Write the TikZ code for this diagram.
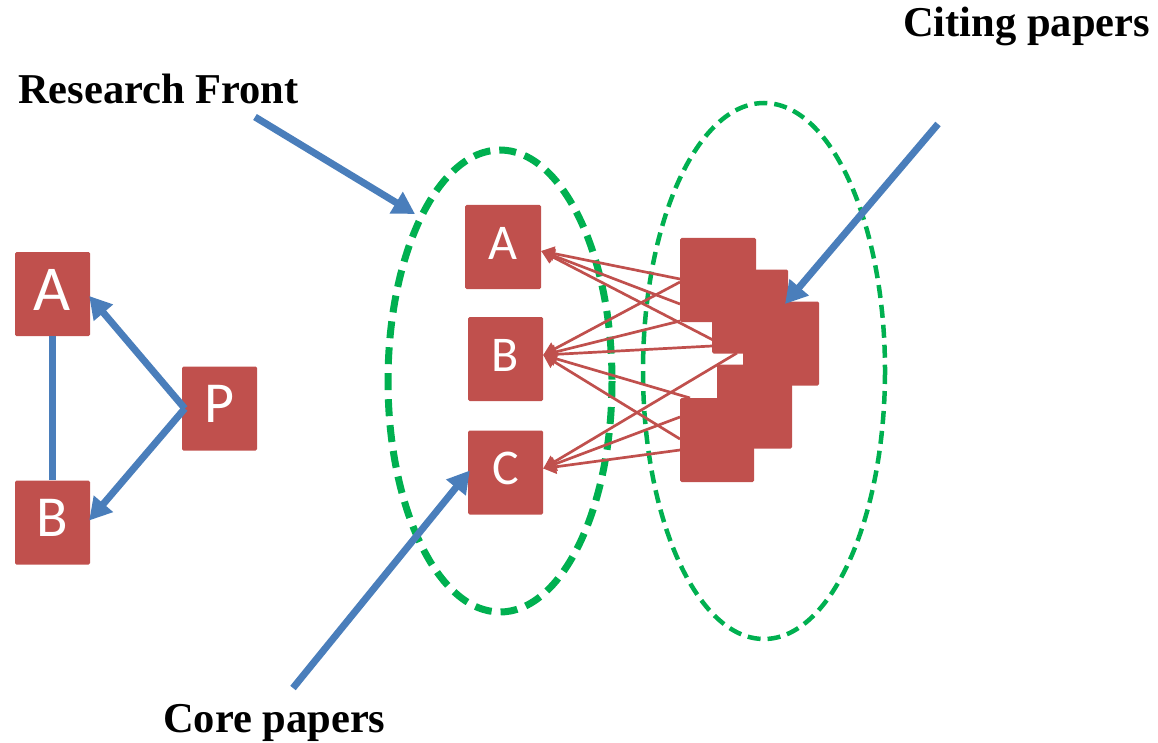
\documentclass[tikz,border=0pt]{standalone}
\usepackage{fontspec}
\setmainfont{Liberation Serif}
\newfontfamily\letterfont{Carlito}
\usetikzlibrary{arrows.meta}
\definecolor{paperred}{HTML}{C0504D}
\definecolor{pointerblue}{HTML}{4A7EBB}
\definecolor{groupgreen}{HTML}{00B050}
\begin{document}
\begin{tikzpicture}[x=1pt,y=-1pt,
  paper/.style={fill=paperred, draw=none, rounded corners=1.5pt,
    minimum width=75pt, minimum height=84pt, inner sep=0pt, text=white},
  bigletter/.style={font=\letterfont\fontsize{64}{64}\selectfont, text depth=9pt},
  midletter/.style={font=\letterfont\fontsize{50}{50}\selectfont, text depth=8pt},
  citing/.style={fill=paperred, draw=none, rounded corners=1.5pt,
    minimum width=76pt, minimum height=84pt, inner sep=0pt},
  pointer/.style={draw=pointerblue, line width=7pt, -{Triangle[length=22pt,width=24pt]}},
  link/.style={draw=pointerblue, line width=7pt},
  cites/.style={draw=paperred, line width=2.7pt, -{Triangle[length=13pt,width=14pt]}},
  caption/.style={font=\fontsize{42.5}{42.5}\selectfont\bfseries, text=black, inner sep=0pt, anchor=base west},
  coregroup/.style={draw=groupgreen, line width=7pt, dash pattern=on 17pt off 9pt},
  citegroup/.style={draw=groupgreen, line width=4.5pt, dash pattern=on 13pt off 7pt},
]
\useasboundingbox (0,0) rectangle (1158,743);

% ---- small triangle: P cites A and B ----
\node[paper, bigletter] (lA) at (52.5,294) {A};
\node[paper, bigletter, font=\letterfont\fontsize{58}{58}\selectfont] (lB) at (52.5,522.5) {B};
\node[paper, bigletter, font=\letterfont\fontsize{58}{58}\selectfont] (lP) at (219.5,408.5) {P};
\draw[link] (lA.south) -- (lB.north);
\draw[pointer] ([xshift=3pt]lP.west) -- ([xshift=-1pt,yshift=-2pt]lA.east);
\draw[pointer] ([xshift=3pt]lP.west) -- ([xshift=-1pt,yshift=2pt]lB.east);

% ---- the two groups ----
\draw[coregroup] (500,381) ellipse [x radius=112, y radius=231];
\draw[citegroup] (764,371) ellipse [x radius=121, y radius=268];

% ---- core papers ----
\node[paper, midletter, minimum width=76pt] (cA) at (503,247) {A};
\node[paper, midletter] (cB) at (505.5,359) {B};
\node[paper, midletter] (cC) at (505.5,472.5) {C};

% ---- citing papers, stacked ----
\node[citing] (s1) at (718,280) {};
\node[citing] (s2) at (750,311.5) {};
\node[citing] (s3) at (781,343.5) {};
\node[citing, minimum width=75pt] (s4) at (754.5,406.5) {};
\node[citing, minimum width=74pt] (s5) at (717,440) {};

% start points of the citation links
\coordinate (a1) at (680,279);
\coordinate (a2) at (680,304);
\coordinate (a3) at (713,340);
\coordinate (b1) at (680,282);
\coordinate (b2) at (680,321);
\coordinate (b3) at (712,346);
\coordinate (b4) at (690,398);
\coordinate (b5) at (680,439);
\coordinate (k1) at (737,353);
\coordinate (k2) at (680,417);
\coordinate (k3) at (680,450);

\foreach \s in {a1,a2,a3}
  \draw[cites] (\s) -- ([yshift=-4pt]cA.east);
\foreach \s in {b1,b2,b3,b4,b5}
  \draw[cites] (\s) -- ([yshift=4pt]cB.east);
\foreach \s in {k1,k2,k3}
  \draw[cites] (\s) -- ([yshift=4pt]cC.east);

% ---- captions and pointers ----
\node[caption] (tCiting) at (903,37) {Citing papers};
\node[caption] (tFront) at (18,104) {Research Front};
\node[caption] (tCore) at (163,732) {Core papers};

\coordinate (pFront) at (255,117);
\coordinate (pFrontTip) at (415,214);
\coordinate (pCite) at (938,124);
\coordinate (pCiteTip) at (785,304);
\coordinate (pCore) at (293,688);

\draw[pointer] (pFront) -- (pFrontTip);
\draw[pointer] (pCite) -- (pCiteTip);
\draw[pointer] (pCore) -- ([xshift=2pt,yshift=2pt]cC.west);
\end{tikzpicture}
\end{document}
